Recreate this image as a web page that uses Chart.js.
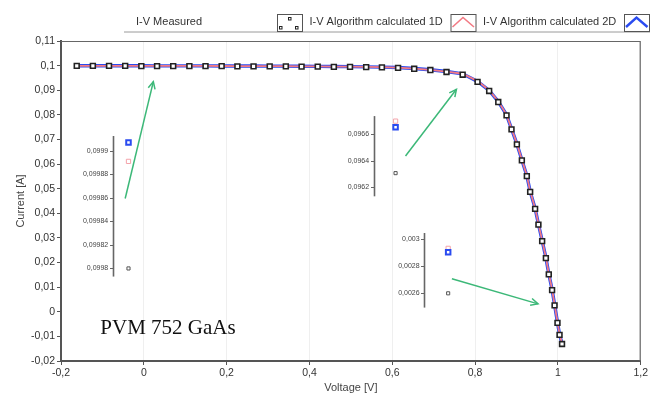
<!DOCTYPE html>
<html>
<head>
<meta charset="utf-8">
<script src="https://cdn.jsdelivr.net/npm/chart.js@4"></script>
<style>
    html, body { margin: 0; padding: 0; background: #ffffff; }
    canvas { display: block; }
</style>
</head>
<body>
<canvas id="chart" width="650" height="398"></canvas>
<script>
    // measured I-V points
    const voltage = [
        -0.162, -0.123, -0.084, -0.045, -0.006, 0.032, 0.071, 0.110, 0.149, 0.188,
        0.226, 0.265, 0.304, 0.343, 0.381, 0.420, 0.459, 0.498, 0.537, 0.575,
        0.614, 0.653, 0.692, 0.731, 0.770, 0.806, 0.834, 0.856, 0.876, 0.888,
        0.901, 0.913, 0.925, 0.933, 0.945, 0.953, 0.962, 0.971, 0.978, 0.986,
        0.992, 0.999, 1.004, 1.010
    ];
    const measured = [
        0.0999, 0.0999, 0.0999, 0.0999, 0.0998, 0.0998, 0.0998, 0.0998, 0.0998, 0.0998,
        0.0997, 0.0997, 0.0997, 0.0997, 0.0996, 0.0996, 0.0995, 0.0995, 0.0994, 0.0993,
        0.0991, 0.0987, 0.0982, 0.0974, 0.096305, 0.0934, 0.0897, 0.0852, 0.0798, 0.0741,
        0.0680, 0.0615, 0.0551, 0.0487, 0.0418, 0.0354, 0.0287, 0.0218, 0.0152, 0.0088,
        0.0026, -0.0045, -0.0094, -0.0131
    ];
    const calculated1D = [
        0.09992, 0.09992, 0.09991, 0.0999, 0.0999, 0.099891, 0.09988, 0.09987, 0.09986, 0.09985,
        0.09983, 0.09981, 0.09979, 0.09976, 0.09972, 0.09968, 0.09963, 0.09956, 0.09948, 0.09938,
        0.0992, 0.0988, 0.0983, 0.0976, 0.0967, 0.0937, 0.0900, 0.0855, 0.0801, 0.0744,
        0.0683, 0.0618, 0.0554, 0.0490, 0.0421, 0.0357, 0.0290, 0.0221, 0.0155, 0.0091,
        0.002929, -0.0042, -0.0091, -0.0128
    ];
    const calculated2D = [
        0.09994, 0.09994, 0.09993, 0.09992, 0.09992, 0.099907, 0.0999, 0.09989, 0.09988, 0.09987,
        0.09985, 0.09983, 0.09981, 0.09978, 0.09974, 0.0997, 0.09965, 0.09958, 0.0995, 0.0994,
        0.09921, 0.0988, 0.0983, 0.0976, 0.096653, 0.0936, 0.0899, 0.0854, 0.0800, 0.0743,
        0.0682, 0.0617, 0.0553, 0.0489, 0.0420, 0.0356, 0.0289, 0.0220, 0.0154, 0.0090,
        0.0029, -0.0043, -0.0092, -0.0129
    ];

    const xTickValues = [-0.2, 0, 0.2, 0.4, 0.6, 0.8, 1, 1.2];
    const yTickValues = [-0.02, -0.01, 0, 0.01, 0.02, 0.03, 0.04, 0.05, 0.06, 0.07, 0.08, 0.09, 0.1, 0.11];

    // zoomed insets: which measured point each one magnifies and its tick labels
    const insetIndex = [5, 24, 40];
    const insetTicks = [
        [0.0998, 0.09982, 0.09984, 0.09986, 0.09988, 0.0999],
        [0.0962, 0.0964, 0.0966],
        [0.0026, 0.0028, 0.003]
    ];
    const seriesNames = ["I-V Measured", "I-V Algorithm calculated 1D", "I-V Algorithm calculated 2D"];
    const sampleName = "PVM 752 GaAs";

    // where the insets sit, in main-axis units
    const insetLayout = [
        { axisX: -0.075, pointX: -0.037, lo: 0.0176, hi: 0.0654, span: [0.0143, 0.0714], arrow: [[-0.045, 0.046], [0.023, 0.0935]] },
        { axisX: 0.555, pointX: 0.608, lo: 0.0507, hi: 0.0721, span: [0.0469, 0.0795], arrow: [[0.632, 0.0633], [0.755, 0.0904]] },
        { axisX: 0.677, pointX: 0.735, lo: 0.0075, hi: 0.0297, span: [0.0017, 0.0320], arrow: [[0.744, 0.0134], [0.952, 0.0032]] }
    ];
    const insetLabelGap = 0.011;

    const colors = { measured: "#222222", oneD: "#f27a84", twoD: "#2a4bf0", arrow: "#3cb878", axis: "#555555" };
    const font = "'Liberation Sans', Arial, sans-serif";

    function fmt(value) {
        return String(Number(value.toFixed(6))).replace(".", ",");
    }

    const scales = {
        x: {
            type: "linear",
            min: -0.2,
            max: 1.2,
            afterBuildTicks: scale => { scale.ticks = xTickValues.map(value => ({ value })); },
            afterFit: scale => { scale.height = 37; },
            grid: { color: "#efefef", tickColor: colors.axis, tickLength: 4 },
            border: { color: colors.axis, width: 2 },
            ticks: { font: { family: font, size: 10.5 }, color: "#333", padding: 2, maxRotation: 0, autoSkip: false, callback: fmt },
            title: { display: true, text: "Voltage [V]", font: { family: font, size: 11 }, color: "#444", padding: { top: 0, bottom: 3 } }
        },
        y: {
            type: "linear",
            min: -0.02,
            max: 0.11,
            afterBuildTicks: scale => { scale.ticks = yTickValues.map(value => ({ value })); },
            afterFit: scale => { scale.width = 61; },
            grid: { drawOnChartArea: false, tickColor: colors.axis, tickLength: 4 },
            border: { color: colors.axis, width: 2 },
            ticks: { font: { family: font, size: 10.5 }, color: "#333", padding: 2, autoSkip: false, callback: fmt },
            title: { display: true, text: "Current [A]", font: { family: font, size: 11 }, color: "#444", padding: { top: 14, bottom: 0 } }
        }
    };

    const datasets = [
        {
            label: seriesNames[0],
            data: voltage.map((v, i) => ({ x: v, y: measured[i] })),
            showLine: false,
            pointStyle: "rect",
            pointRadius: 3.4,
            pointBorderWidth: 1.6,
            pointBorderColor: colors.measured,
            pointBackgroundColor: "#ffffff"
        },
        {
            label: seriesNames[1],
            data: voltage.map((v, i) => ({ x: v, y: calculated1D[i] })),
            showLine: true,
            borderColor: colors.oneD,
            borderWidth: 1.8,
            pointRadius: 0
        },
        {
            label: seriesNames[2],
            data: voltage.map((v, i) => ({ x: v, y: calculated2D[i] })),
            showLine: true,
            borderColor: colors.twoD,
            borderWidth: 3.4,
            pointRadius: 0
        }
    ];

    insetTicks.forEach((ticks, i) => {
        const lay = insetLayout[i];
        const lo = ticks[0];
        const hi = ticks[ticks.length - 1];
        const k = (hi - lo) / (lay.hi - lay.lo);
        scales["inset" + i] = {
            type: "linear",
            axis: "y",
            position: { x: lay.axisX - insetLabelGap },
            min: lo + (yTickValues[0] - lay.lo) * k,
            max: lo + (yTickValues[yTickValues.length - 1] - lay.lo) * k,
            afterBuildTicks: scale => { scale.ticks = ticks.map(value => ({ value })); },
            grid: { drawOnChartArea: false, drawTicks: false },
            border: { display: false },
            ticks: { font: { family: font, size: 7 }, color: "#444", padding: 0, autoSkip: false, callback: fmt }
        };

        const idx = insetIndex[i];
        datasets.push({
            label: "inset" + i,
            yAxisID: "inset" + i,
            data: [measured[idx], calculated1D[idx], calculated2D[idx]].map(y => ({ x: lay.pointX, y })),
            showLine: false,
            pointStyle: "rect",
            pointRadius: [2.2, 3, 3.2],
            pointBorderWidth: [1, 1, 2],
            pointBorderColor: ["#555555", "#f4a3aa", colors.twoD],
            pointBackgroundColor: "#ffffff"
        });
    });

    function line(ctx, points, color, width) {
        ctx.beginPath();
        ctx.moveTo(points[0][0], points[0][1]);
        points.slice(1).forEach(p => ctx.lineTo(p[0], p[1]));
        ctx.strokeStyle = color;
        ctx.lineWidth = width;
        ctx.stroke();
    }

    function drawLegend(ctx) {
        ctx.save();
        line(ctx, [[124, 32], [650, 32]], "#9a9a9a", 1);
        ctx.font = "11px " + font;
        ctx.textBaseline = "middle";
        ctx.fillStyle = "#333";
        seriesNames.forEach((name, i) => {
            const left = 136 + i * 173.5;
            const box = left + 141;
            ctx.fillText(name, left, 22);
            ctx.strokeStyle = "#555";
            ctx.lineWidth = 1;
            ctx.strokeRect(box + 0.5, 14.5, 25, 17);
            if (i === 0) {
                ctx.strokeStyle = "#222";
                [[2, 12], [11, 3], [18, 12]].forEach(p => ctx.strokeRect(box + p[0] + 0.5, 14 + p[1] + 0.5, 2.5, 2.5));
            } else {
                const color = i === 1 ? colors.oneD : colors.twoD;
                line(ctx, [[box + 2, 27], [box + 12.5, 17.5], [box + 23.5, 27]], color, i === 1 ? 1.6 : 2.4);
            }
        });
        ctx.restore();
    }

    const decor = {
        id: "decor",
        afterDraw(chart) {
            const { ctx, chartArea: area, scales: { x, y } } = chart;
            ctx.save();
            // plot frame top and right
            line(ctx, [[area.left, area.top + 0.5], [area.right - 0.5, area.top + 0.5], [area.right - 0.5, area.bottom]], "#666", 1.2);

            insetLayout.forEach((lay, i) => {
                const scale = chart.scales["inset" + i];
                const ax = Math.round(x.getPixelForValue(lay.axisX)) + 0.5;
                line(ctx, [[ax, y.getPixelForValue(lay.span[1])], [ax, y.getPixelForValue(lay.span[0])]], "#666", 1.6);
                scale.ticks.forEach(t => {
                    const py = Math.round(scale.getPixelForValue(t.value)) + 0.5;
                    line(ctx, [[ax - 3.5, py], [ax, py]], "#666", 1);
                });

                const tail = [x.getPixelForValue(lay.arrow[0][0]), y.getPixelForValue(lay.arrow[0][1])];
                const head = [x.getPixelForValue(lay.arrow[1][0]), y.getPixelForValue(lay.arrow[1][1])];
                line(ctx, [tail, head], colors.arrow, 1.5);
                const angle = Math.atan2(head[1] - tail[1], head[0] - tail[0]);
                const wing = a => [head[0] - 8 * Math.cos(angle + a), head[1] - 8 * Math.sin(angle + a)];
                line(ctx, [wing(0.45), head, wing(-0.45)], colors.arrow, 1.5);
            });

            ctx.font = "21px 'Liberation Serif', 'Times New Roman', serif";
            ctx.fillStyle = "#111";
            ctx.textBaseline = "alphabetic";
            ctx.fillText(sampleName, x.getPixelForValue(-0.105), y.getPixelForValue(-0.0089));
            ctx.restore();

            drawLegend(ctx);
        }
    };

    new Chart(document.getElementById("chart"), {
        type: "scatter",
        data: { datasets },
        options: {
            responsive: false,
            animation: false,
            layout: { padding: { top: 41, right: 8, left: 0, bottom: 0 } },
            plugins: { legend: { display: false }, tooltip: { enabled: false } },
            scales
        },
        plugins: [decor]
    });
</script>
</body>
</html>
